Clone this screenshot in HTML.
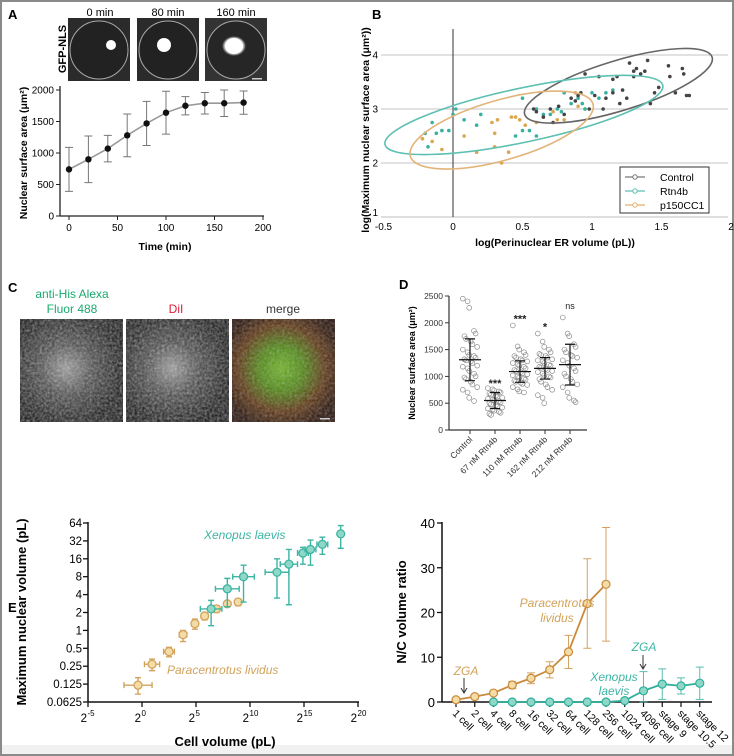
<!DOCTYPE html>
<html><head><meta charset="utf-8"><style>
html,body{margin:0;padding:0;background:#fff}
svg{display:block;font-family:"Liberation Sans",Arial,sans-serif}
</style></head><body>
<svg id="fig" width="734" height="756" viewBox="0 0 734 756">
<defs>
<radialGradient id="blob" cx="50%" cy="50%" r="50%"><stop offset="0" stop-color="#fff"/><stop offset="0.7" stop-color="#fff"/><stop offset="1" stop-color="#fff" stop-opacity="0"/></radialGradient>
<filter id="noise" x="0" y="0" width="100%" height="100%"><feTurbulence type="fractalNoise" baseFrequency="0.4" numOctaves="2" seed="3"/><feColorMatrix type="saturate" values="0"/><feComponentTransfer><feFuncA type="table" tableValues="0 0.7"/></feComponentTransfer></filter>
<radialGradient id="cglow" cx="45%" cy="48%" r="55%"><stop offset="0" stop-color="#999"/><stop offset="0.45" stop-color="#444"/><stop offset="1" stop-color="#0c0c0c"/></radialGradient>
<radialGradient id="mglow" cx="48%" cy="48%" r="60%"><stop offset="0" stop-color="#6ab41e"/><stop offset="0.35" stop-color="#4a860c"/><stop offset="0.7" stop-color="#5a300c"/><stop offset="1" stop-color="#200a03"/></radialGradient>
</defs>
<rect x="0" y="0" width="734" height="756" fill="#fff"/>
<rect x="1" y="1" width="732" height="754" fill="none" stroke="#8a8a8a" stroke-width="2"/>
<rect x="2" y="745" width="730" height="9" fill="#f1f1f1"/>

<text x="8" y="19" font-size="13" font-weight="bold">A</text>
<text transform="translate(66,49) rotate(-90)" text-anchor="middle" font-size="11" font-weight="bold">GFP-NLS</text>
<g><rect x="68" y="18" width="62" height="63" fill="#2b2b2b"/><circle cx="99" cy="50" r="29" fill="#222" stroke="#aaa" stroke-width="1"/><circle cx="111" cy="45" r="5" fill="#fff"/></g>
<g><rect x="137" y="18" width="62" height="63" fill="#2b2b2b"/><circle cx="168" cy="50" r="29" fill="#222" stroke="#aaa" stroke-width="1"/><circle cx="164" cy="45" r="7" fill="#fff"/></g>
<g><rect x="205" y="18" width="62" height="63" fill="#333"/><circle cx="236" cy="50" r="29" fill="#262626" stroke="#aaa" stroke-width="1"/><ellipse cx="234" cy="46" rx="12" ry="10" fill="url(#blob)"/><ellipse cx="234" cy="46" rx="9" ry="8" fill="#fff"/><rect x="252" y="78" width="10" height="1.5" fill="#ccc"/></g>
<text x="100" y="16" text-anchor="middle" font-size="11">0 min</text>
<text x="168" y="16" text-anchor="middle" font-size="11">80 min</text>
<text x="236" y="16" text-anchor="middle" font-size="11">160 min</text>
<g id="pA"></g>

<text x="372" y="19" font-size="13" font-weight="bold">B</text>
<g id="pB"></g>

<text x="8" y="292" font-size="13" font-weight="bold">C</text>
<text x="72" y="298" text-anchor="middle" font-size="12" fill="#1aaa6e">anti-His Alexa</text>
<text x="72" y="313" text-anchor="middle" font-size="12" fill="#1aaa6e">Fluor 488</text>
<text x="176" y="313" text-anchor="middle" font-size="12" fill="#e0203a">DiI</text>
<text x="283" y="313" text-anchor="middle" font-size="12" fill="#333">merge</text>
<g><rect x="20" y="319" width="103" height="103" fill="url(#cglow)"/><rect x="20" y="319" width="103" height="103" filter="url(#noise)"/></g>
<g><rect x="126" y="319" width="103" height="103" fill="url(#cglow)"/><rect x="126" y="319" width="103" height="103" filter="url(#noise)"/></g>
<g><rect x="232" y="319" width="103" height="103" fill="url(#mglow)"/><rect x="232" y="319" width="103" height="103" filter="url(#noise)" opacity="0.7"/><rect x="320" y="418" width="10" height="1.5" fill="#ccc"/></g>

<text x="399" y="289" font-size="13" font-weight="bold">D</text>
<g id="pD"></g>

<text x="8" y="612" font-size="13" font-weight="bold">E</text>
<g id="pE1"></g>
<g id="pE2"></g>

<script>
const aTimes = [0,20,40,60,80,100,120,140,160,180];
const aMeans = [740,900,1070,1280,1470,1640,1750,1790,1790,1800];
const aSD = [350,370,210,340,350,340,145,170,210,185];
const aXTicks = [0,50,100,150,200];
const aYTicks = [0,500,1000,1500,2000];

const bControl = [[0.58,3.0],[0.6,2.95],[0.65,2.85],[0.7,3.0],[0.72,2.75],[0.76,3.05],[0.8,2.9],[0.85,3.2],[0.88,3.15],[0.9,3.25],[0.92,3.3],[0.95,3.65],[0.98,3.0],[1.02,3.25],[1.05,3.6],[1.08,3.0],[1.1,3.2],[1.15,3.55],[1.18,3.6],[1.2,3.1],[1.22,3.35],[1.25,3.2],[1.27,3.85],[1.3,3.7],[1.32,3.75],[1.35,3.65],[1.38,3.7],[1.4,3.9],[1.42,3.1],[1.45,3.3],[1.48,3.4],[1.55,3.8],[1.56,3.6],[1.6,3.3],[1.65,3.75],[1.66,3.65],[1.68,3.25],[1.7,3.25],[1.3,3.6],[1.15,3.3]];
const bRtn4b = [[-0.2,2.55],[-0.18,2.3],[-0.15,2.75],[-0.12,2.55],[-0.08,2.6],[-0.03,2.6],[0.0,2.9],[0.02,3.0],[0.08,2.8],[0.17,2.7],[0.2,2.9],[0.45,2.5],[0.5,2.6],[0.5,3.2],[0.55,2.6],[0.6,2.5],[0.6,3.0],[0.65,2.9],[0.7,2.9],[0.75,3.0],[0.78,2.95],[0.8,3.3],[0.85,3.1],[0.9,3.2],[0.93,3.1],[0.95,3.0],[1.0,3.3],[1.05,3.2],[1.1,3.3],[1.15,3.35]];
const bP150 = [[-0.22,2.45],[-0.15,2.4],[-0.08,2.25],[0.08,2.5],[0.17,2.2],[0.28,2.75],[0.3,2.55],[0.3,2.3],[0.32,2.8],[0.35,2.0],[0.4,2.2],[0.42,2.85],[0.45,2.85],[0.48,2.8],[0.52,2.7],[0.6,2.75],[0.65,2.85],[0.72,2.95],[0.75,2.8],[0.8,2.8],[0.88,3.3],[0.9,3.05],[0.95,3.0]];
// ellipse centres in data units [x, y]
const bEllControlCenter = [1.19, 3.43];
const bEllRtn4bCenter = [0.51, 2.89];
const bEllP150Center = [0.35, 2.61];
const bXTicks = [-0.5,0,0.5,1,1.5,2];
const bXTickLabels = ["-0.5","0","0.5","1","1.5","2"];
const bYTicks = [1,2,3,4];

const dCategories = ["Control","67 nM Rtn4b","110 nM Rtn4b","162 nM Rtn4b","212 nM Rtn4b"];
const dValues = [
 [2450,2400,2280,1850,1800,1750,1700,1650,1600,1550,1500,1450,1400,1380,1350,1320,1300,1280,1250,1200,1180,1150,1100,1050,1000,980,950,900,850,800,750,700,600,540],
 [780,760,740,720,700,680,660,640,620,600,580,560,550,540,520,500,480,460,440,420,400,380,360,340,320,300,280],
 [1950,1560,1500,1450,1400,1380,1350,1320,1300,1280,1250,1220,1200,1180,1150,1120,1100,1080,1060,1040,1020,1000,980,960,940,920,900,880,860,840,800,760,720,700],
 [1800,1650,1550,1500,1450,1420,1400,1380,1350,1320,1300,1280,1250,1220,1200,1180,1160,1140,1120,1100,1080,1050,1020,1000,980,950,900,850,800,750,650,600,500],
 [2100,1800,1750,1600,1550,1500,1450,1400,1380,1350,1300,1250,1200,1150,1100,1050,1000,950,900,850,800,700,600,550,520]
];
const dMeans = [1310,550,1090,1150,1220];
const dSD = [390,150,200,200,380];
const dSig = ["","***","***","*","ns"];
const dSigLevel = [0,900,2100,1950,2260];
const dYTicks = [0,500,1000,1500,2000,2500];

const eParaCell = [-0.37,0.93,2.5,3.8,4.9,5.8,6.9,7.9,8.9];
const eParaCellErr = [1.3,0.7,0.5,0.35,0.3,0.3,0.25,0.2,0.2];
const eParaNuc = [0.12,0.27,0.44,0.85,1.3,1.75,2.3,2.8,3.0];
const eParaNucLo = [0.085,0.21,0.36,0.65,1.05,1.5,2.0,2.5,2.6];
const eParaNucHi = [0.16,0.33,0.52,1.0,1.55,2.0,2.6,3.1,3.4];
const eXenCell = [6.4,7.9,9.4,12.5,13.6,14.9,15.6,16.7,18.4];
const eXenCellErr = [1.0,1.1,1.0,1.1,0.8,0.5,0.5,0.5,0.0];
const eXenNuc = [2.3,5,8,9.5,13,20,23,28,42];
const eXenNucLo = [1.2,2.5,3,3.5,2.7,13,12.5,19,24];
const eXenNucHi = [3.2,7.5,12.5,16,23,25,33,37,58];
const eXTicks = [-5,0,5,10,15,20];
const eYTicks = [0.0625,0.125,0.25,0.5,1,2,4,8,16,32,64];
const eYTickLabels = ["0.0625","0.125","0.25","0.5","1","2","4","8","16","32","64"];

const fCategories = ["1 cell","2 cell","4 cell","8 cell","16 cell","32 cell","64 cell","128 cell","256 cell","1024 cell","4096 cell","stage 9","stage 10.5","stage 12"];
const fParaIdx = [0,1,2,3,4,5,6,7,8];
const fParaVal = [0.5,1.2,2,3.8,5.3,7.2,11.2,22,26.3];
const fParaErr = [0.3,0.4,0.4,0.8,1.2,1.8,3.7,10,12.7];
const fXenIdx = [2,3,4,5,6,7,8,9,10,11,12,13];
const fXenVal = [0,0,0,0,0,0,0,0.3,2.5,4,3.6,4.2];
const fXenErr = [0,0,0,0,0,0,0,0,4.3,3.4,1.8,3.6];
const fYTicks = [0,10,20,30,40];

const NS="http://www.w3.org/2000/svg";
function mk(parent, tag, attrs, txt){const e=document.createElementNS(NS,tag);for(const k in attrs)e.setAttribute(k,attrs[k]);if(txt!==undefined)e.textContent=txt;parent.appendChild(e);return e;}

(function(){
 const g=document.getElementById('pA');
 const X=v=>69+(v/200)*194, Y=v=>216-(v/2000)*126;
 let e;
 e=mk(g,'line',{x1:60,y1:216,x2:264,y2:216,stroke:'#222','stroke-width':1.3});
 
 
 e=mk(g,'line',{x1:60,y1:86,x2:60,y2:216,stroke:'#222','stroke-width':1.3});
 
 
 aXTicks.forEach(t=>{mk(g,'line',{x1:X(t),y1:216,x2:X(t),y2:220,stroke:'#222'});
  e=mk(g,'text',{x:X(t),y:231,'text-anchor':'middle','font-size':10},t);
  
  });
 aYTicks.forEach(t=>{mk(g,'line',{x1:56,y1:Y(t),x2:60,y2:Y(t),stroke:'#222'});
  e=mk(g,'text',{x:54,y:Y(t)+3.5,'text-anchor':'end','font-size':10},t);
  
  });
 e=mk(g,'text',{x:165,y:250,'text-anchor':'middle','font-size':10.5,'font-weight':'bold'},'Time (min)');
 
 
 e=mk(g,'text',{transform:'translate(27,153) rotate(-90)','text-anchor':'middle','font-size':10.5,'font-weight':'bold'},'Nuclear surface area (μm²)');
 
 
 let d=aTimes.map((t,i)=>(i?'L':'M')+X(t)+','+Y(aMeans[i])).join('');
 e=mk(g,'path',{d:d,fill:'none',stroke:'#999','stroke-width':1.6});
 
 
 aTimes.forEach((t,i)=>{const x=X(t);
  e=mk(g,'path',{d:`M${x},${Y(aMeans[i]-aSD[i])}V${Y(aMeans[i]+aSD[i])}M${x-4},${Y(aMeans[i]-aSD[i])}h8M${x-4},${Y(aMeans[i]+aSD[i])}h8`,stroke:'#777','stroke-width':1,fill:'none'});
  
  
  e=mk(g,'circle',{cx:x,cy:Y(aMeans[i]),r:3.2,fill:'#111'});
  
  });
})();

(function(){
 const g=document.getElementById('pB');
 const X=v=>453+v*139, Y=v=>217-(v-1)*54;
 let e;
 bYTicks.forEach(t=>{ if(t>1){e=mk(g,'line',{x1:381,y1:Y(t),x2:728,y2:Y(t),stroke:'#cfcfcf','stroke-width':1.2});
   
   }
  e=mk(g,'text',{x:378,y:Y(t)+(t==1?-1:3.5),'text-anchor':'end','font-size':10},t);
  
  });
 e=mk(g,'line',{x1:381,y1:217,x2:728,y2:217,stroke:'#ccc','stroke-width':1.2});
 
 
 e=mk(g,'line',{x1:X(0),y1:29,x2:X(0),y2:217,stroke:'#333','stroke-width':1});
 
 
 bXTicks.forEach((t,i)=>{e=mk(g,'text',{x:X(t),y:230,'text-anchor':'middle','font-size':10},bXTickLabels[i]);
  
  });
 e=mk(g,'text',{x:555,y:246,'text-anchor':'middle','font-size':10.5,'font-weight':'bold'},'log(Perinuclear ER volume (pL))');
 
 
 e=mk(g,'text',{transform:'translate(369,130) rotate(-90)','text-anchor':'middle','font-size':10.5,'font-weight':'bold'},'log(Maximum nuclear surface area (μm²))');
 
 
 function ell(c,rx,ry,ang,col,name){
  const cx=X(c[0]),cy=Y(c[1]);
  e=mk(g,'ellipse',{cx:cx,cy:cy,rx:rx,ry:ry,transform:`rotate(${ang} ${cx} ${cy})`,fill:'none',stroke:col,'stroke-width':1.6});
  
  
 }
 function pts(arr,col,name){arr.forEach(p=>{e=mk(g,'circle',{cx:X(p[0]),cy:Y(p[1]),r:1.8,fill:col});
  
  });}
 pts(bP150,'#dca650','p150-point');
 pts(bRtn4b,'#38b0a0','rtn4b-point');
 pts(bControl,'#444','control-point');
 ell(bEllControlCenter,98,25,-17,'#666','control-ellipse');
 ell(bEllRtn4bCenter,142,27,-12,'#5cc0b2','rtn4b-ellipse');
 ell(bEllP150Center,95,30,-16,'#e2b47a','p150-ellipse');
 e=mk(g,'rect',{x:620,y:167,width:89,height:46,fill:'#fff',stroke:'#333','stroke-width':1});
 
 
 [['Control','#777'],['Rtn4b','#5cc0b2'],['p150CC1','#e0b070']].forEach((l,i)=>{const y=177+i*14;
  mk(g,'line',{x1:625,y1:y,x2:645,y2:y,stroke:l[1],'stroke-width':1.3});
  mk(g,'circle',{cx:635,cy:y,r:2.2,fill:'#fff',stroke:l[1]});
  e=mk(g,'text',{x:660,y:y+4,'font-size':10.5},l[0]);
  
  });
})();

(function(){
 const g=document.getElementById('pD');
 const Y=v=>430-(v/2500)*134; const CX=i=>470+i*25;
 let e;
 e=mk(g,'line',{x1:449,y1:430,x2:587,y2:430,stroke:'#333','stroke-width':1.2});
 
 
 e=mk(g,'line',{x1:449,y1:296,x2:449,y2:430,stroke:'#333','stroke-width':1.2});
 
 
 dYTicks.forEach(t=>{mk(g,'line',{x1:445,y1:Y(t),x2:449,y2:Y(t),stroke:'#333'});
  e=mk(g,'text',{x:443,y:Y(t)+3,'text-anchor':'end','font-size':8.5,fill:'#333'},t);
  
  });
 e=mk(g,'text',{transform:'translate(415,363) rotate(-90)','text-anchor':'middle','font-size':9,'font-weight':'bold'},'Nuclear surface area (μm²)');
 
 
 dCategories.forEach((c,i)=>{const cx=CX(i);
  mk(g,'line',{x1:cx,y1:430,x2:cx,y2:434,stroke:'#333'});
  e=mk(g,'text',{transform:`translate(${cx+3},${440}) rotate(-45)`,'text-anchor':'end','font-size':8.5,fill:'#333'},c);
  
  
  dValues[i].forEach((v,j)=>{const off=((j%5)-2)*3.2+((j%2)?0.8:-0.8);
   e=mk(g,'circle',{cx:cx+off,cy:Y(v),r:2.4,fill:'none',stroke:'#8a8a8a','stroke-width':0.7});
   
   });
  e=mk(g,'path',{d:`M${cx-11},${Y(dMeans[i])}h22M${cx},${Y(dMeans[i]-dSD[i])}V${Y(dMeans[i]+dSD[i])}M${cx-5},${Y(dMeans[i]-dSD[i])}h10M${cx-5},${Y(dMeans[i]+dSD[i])}h10`,stroke:'#111','stroke-width':1.2,fill:'none'});
  
  
  if(dSig[i]){e=mk(g,'text',{x:cx,y:Y(dSigLevel[i])+(dSig[i]=='ns'?0:5),'text-anchor':'middle','font-size':dSig[i]=='ns'?9:11,fill:'#222','font-weight':dSig[i]=='ns'?'normal':'bold'},dSig[i]);
   
   }
 });
})();

(function(){
 const g=document.getElementById('pE1');
 const X=v=>88+(v+5)*10.8; const Y=v=>702-(Math.log2(v)+4)*17.9;
 let e;
 e=mk(g,'line',{x1:88,y1:702,x2:359,y2:702,stroke:'#111','stroke-width':1.5});
 
 
 e=mk(g,'line',{x1:88,y1:522,x2:88,y2:702,stroke:'#111','stroke-width':1.5});
 
 
 eYTicks.forEach((t,i)=>{mk(g,'line',{x1:83,y1:Y(t),x2:88,y2:Y(t),stroke:'#111','stroke-width':1.3});
  e=mk(g,'text',{x:82,y:Y(t)+4,'text-anchor':'end','font-size':11.5},eYTickLabels[i]);
  
  });
 eXTicks.forEach(t=>{mk(g,'line',{x1:X(t),y1:702,x2:X(t),y2:707,stroke:'#111','stroke-width':1.3});
  e=mk(g,'text',{x:X(t)-1,y:722,'text-anchor':'end','font-size':11.5},'2');
  
  
  mk(g,'text',{x:X(t)-0.5,y:716,'font-size':8},t);});
 e=mk(g,'text',{x:225,y:746,'text-anchor':'middle','font-size':13,'font-weight':'bold'},'Cell volume (pL)');
 
 
 e=mk(g,'text',{transform:'translate(26,612) rotate(-90)','text-anchor':'middle','font-size':13,'font-weight':'bold'},'Maximum nuclear volume (pL)');
 
 
 function series(cx,cxe,ny,lo,hi,stroke,fill,name){
  cx.forEach((c,i)=>{const x=X(c),y=Y(ny[i]);
   e=mk(g,'path',{d:`M${X(c-cxe[i])},${y}H${X(c+cxe[i])}M${X(c-cxe[i])},${y-3}v6M${X(c+cxe[i])},${y-3}v6M${x},${Y(lo[i])}V${Y(hi[i])}M${x-3},${Y(lo[i])}h6M${x-3},${Y(hi[i])}h6`,stroke:stroke,'stroke-width':1.4,fill:'none'});
   
   
   e=mk(g,'circle',{cx:x,cy:y,r:4,fill:fill,stroke:stroke,'stroke-width':1.3});
   
   });
 }
 series(eParaCell,eParaCellErr,eParaNuc,eParaNucLo,eParaNucHi,'#d3a35c','#f3dca5','paracentrotus');
 series(eXenCell,eXenCellErr,eXenNuc,eXenNucLo,eXenNucHi,'#3db5a3','#8fd8c8','xenopus');
 e=mk(g,'text',{x:204,y:539,'font-size':12,'font-style':'italic',fill:'#3db5a3'},'Xenopus laevis');
 
 
 e=mk(g,'text',{x:167,y:674,'font-size':12,'font-style':'italic',fill:'#d3a35c'},'Paracentrotus lividus');
 
 
})();

(function(){
 const g=document.getElementById('pE2');
 const X=i=>456+i*18.75; const Y=v=>702-(v/40)*179;
 let e;
 e=mk(g,'line',{x1:442,y1:702,x2:712,y2:702,stroke:'#111','stroke-width':1.5});
 
 
 e=mk(g,'line',{x1:442,y1:522,x2:442,y2:702,stroke:'#111','stroke-width':1.5});
 
 
 fYTicks.forEach(t=>{mk(g,'line',{x1:437,y1:Y(t),x2:442,y2:Y(t),stroke:'#111','stroke-width':1.3});
  e=mk(g,'text',{x:435,y:Y(t)+5,'text-anchor':'end','font-size':13},t);
  
  });
 e=mk(g,'text',{transform:'translate(406,612) rotate(-90)','text-anchor':'middle','font-size':13,'font-weight':'bold'},'N/C volume ratio');
 
 
 fCategories.forEach((c,i)=>{mk(g,'line',{x1:X(i),y1:702,x2:X(i),y2:707,stroke:'#111','stroke-width':1.2});
  e=mk(g,'text',{transform:`translate(${X(i)-4},${714}) rotate(45)`,'font-size':10.5},c);
  
  });
 function series(idx,val,err,stroke,fill,name){
  e=mk(g,'path',{d:idx.map((k,i)=>(i?'L':'M')+X(k)+','+Y(val[i])).join(''),fill:'none',stroke:stroke,'stroke-width':1.8});
  
  
  idx.forEach((k,i)=>{const x=X(k);
   if(err[i]>0){e=mk(g,'path',{d:`M${x},${Y(Math.max(0,val[i]-err[i]))}V${Y(val[i]+err[i])}M${x-4},${Y(Math.max(0,val[i]-err[i]))}h8M${x-4},${Y(val[i]+err[i])}h8`,stroke:stroke,'stroke-width':1,fill:'none',opacity:0.8});
    
    }
   e=mk(g,'circle',{cx:x,cy:Y(val[i]),r:4,fill:fill,stroke:stroke,'stroke-width':1.2});
   
   });
 }
 series(fXenIdx,fXenVal,fXenErr,'#2fae9c','#8fd8c8','xenopus-nc');
 series(fParaIdx,fParaVal,fParaErr,'#c98a3c','#f3dca5','paracentrotus-nc');
 e=mk(g,'text',{x:557,y:607,'text-anchor':'middle','font-size':12,'font-style':'italic',fill:'#d3a35c'},'Paracentrotus');
 
 
 mk(g,'text',{x:557,y:622,'text-anchor':'middle','font-size':12,'font-style':'italic',fill:'#d3a35c'},'lividus');
 e=mk(g,'text',{x:614,y:681,'text-anchor':'middle','font-size':12,'font-style':'italic',fill:'#3db5a3'},'Xenopus');
 
 
 mk(g,'text',{x:614,y:695,'text-anchor':'middle','font-size':12,'font-style':'italic',fill:'#3db5a3'},'laevis');
 e=mk(g,'text',{x:466,y:675,'text-anchor':'middle','font-size':12,'font-style':'italic',fill:'#d3a35c'},'ZGA');
 
 
 mk(g,'path',{d:'M464,678V692M461,688L464,693L467,688',stroke:'#333',fill:'none','stroke-width':1});
 e=mk(g,'text',{x:644,y:651,'text-anchor':'middle','font-size':12,'font-style':'italic',fill:'#3db5a3'},'ZGA');
 
 
 mk(g,'path',{d:'M643,655V668M640,664L643,669L646,664',stroke:'#333',fill:'none','stroke-width':1});
})();
</script>
</svg>
</body></html>
